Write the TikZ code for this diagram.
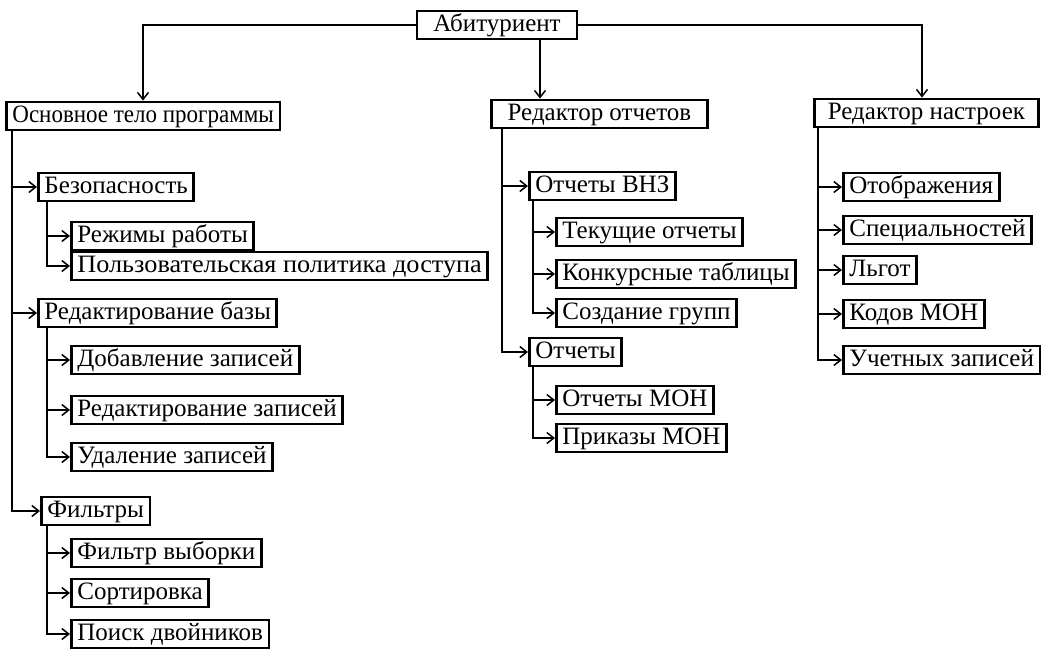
\documentclass[tikz,border=0pt]{standalone}
\usepackage{fontspec}
\setmainfont{Liberation Serif}
\usetikzlibrary{arrows.meta,positioning}

\begin{document}
\begin{tikzpicture}[x=0.5pt, y=-0.5pt, font=\fontsize{12.5}{14}\selectfont, >={Straight Barb[length=3.5pt, width=5.5pt]},
  box/.style={draw, line width=1.4pt, anchor=west, inner xsep=3pt, inner ysep=1pt, text height=9pt, text depth=3pt},
  link/.style={->, line width=0.75pt}]
  \useasboundingbox (0,0) rectangle (1054,655);
  % top level
  \node[box, anchor=center, minimum width=80pt] (root) at (497,25) {Абитуриент};
  \node[box, font=\fontsize{12.5}{14}\selectfont\addfontfeature{FakeStretch=0.92}] (main) at (5,116) {Основное тело программы};
  \node[box, minimum width=108pt] (rep) at (490,114) {Редактор отчетов};
  \node[box, minimum width=112pt] (set) at (813,113) {Редактор настроек};
  \coordinate (tapM) at (143,0); \coordinate (tapR) at (540,0); \coordinate (tapS) at (922,0);
  \draw[link] (root.west) -| (main.north -| tapM);
  \draw[link] (root.south -| tapR) -- (rep.north -| tapR);
  \draw[link] (root.east) -| (set.north -| tapS);
  % main program body
  \node[box] (sec) at (37,187) {Безопасность};
  \node[box] (modes) at (70,236) {Режимы работы};
  \node[box, font=\fontsize{12.5}{14}\selectfont\addfontfeature{FakeStretch=1.05}] (policy) at (70,266) {Пользовательская политика доступа};
  \node[box] (edit) at (37,313) {Редактирование базы};
  \node[box] (add) at (70,360) {Добавление записей};
  \node[box] (editrec) at (70,410) {Редактирование записей};
  \node[box] (del) at (70,457) {Удаление записей};
  \node[box] (filt) at (40,511) {Фильтры};
  \node[box] (sel) at (70,553) {Фильтр выборки};
  \node[box] (sort) at (70,593) {Сортировка};
  \node[box] (dup) at (70,634) {Поиск двойников};
  \draw[link] ([xshift=3.5pt]main.south west) |- (sec.west); \draw[link] ([xshift=3.5pt]main.south west) |- (edit.west); \draw[link] ([xshift=3.5pt]main.south west) |- (filt.west);
  \draw[link] ([xshift=5pt]sec.south west) |- (modes.west); \draw[link] ([xshift=5pt]sec.south west) |- (policy.west);
  \draw[link] ([xshift=5pt]edit.south west) |- (add.west); \draw[link] ([xshift=5pt]edit.south west) |- (editrec.west); \draw[link] ([xshift=5pt]edit.south west) |- (del.west);
  \draw[link] ([xshift=3.5pt]filt.south west) |- (sel.west); \draw[link] ([xshift=3.5pt]filt.south west) |- (sort.west); \draw[link] ([xshift=3.5pt]filt.south west) |- (dup.west);
  % report editor
  \node[box] (vnz) at (528,186) {Отчеты ВНЗ};
  \node[box] (cur) at (555,232) {Текущие отчеты};
  \node[box] (comp) at (555,274) {Конкурсные таблицы};
  \node[box] (grp) at (555,313) {Создание групп};
  \node[box] (rpt) at (528,352) {Отчеты};
  \node[box] (mon) at (555,400) {Отчеты МОН};
  \node[box] (ord) at (555,438) {Приказы МОН};
  \draw[link] ([xshift=6pt]rep.south west) |- (vnz.west); \draw[link] ([xshift=6pt]rep.south west) |- (rpt.west);
  \draw[link] ([xshift=2.5pt]vnz.south west) |- (cur.west); \draw[link] ([xshift=2.5pt]vnz.south west) |- (comp.west); \draw[link] ([xshift=2.5pt]vnz.south west) |- (grp.west);
  \draw[link] ([xshift=2.5pt]rpt.south west) |- (mon.west); \draw[link] ([xshift=2.5pt]rpt.south west) |- (ord.west);
  % settings editor
  \node[box] (disp) at (842,187) {Отображения};
  \node[box] (spec) at (842,230) {Специальностей};
  \node[box] (priv) at (842,270) {Льгот};
  \node[box] (codes) at (842,314) {Кодов МОН};
  \node[box] (acc) at (842,360) {Учетных записей};
  \draw[link] ([xshift=2.5pt]set.south west) |- (disp.west); \draw[link] ([xshift=2.5pt]set.south west) |- (spec.west); \draw[link] ([xshift=2.5pt]set.south west) |- (priv.west);
  \draw[link] ([xshift=2.5pt]set.south west) |- (codes.west); \draw[link] ([xshift=2.5pt]set.south west) |- (acc.west);
\end{tikzpicture}
\end{document}
